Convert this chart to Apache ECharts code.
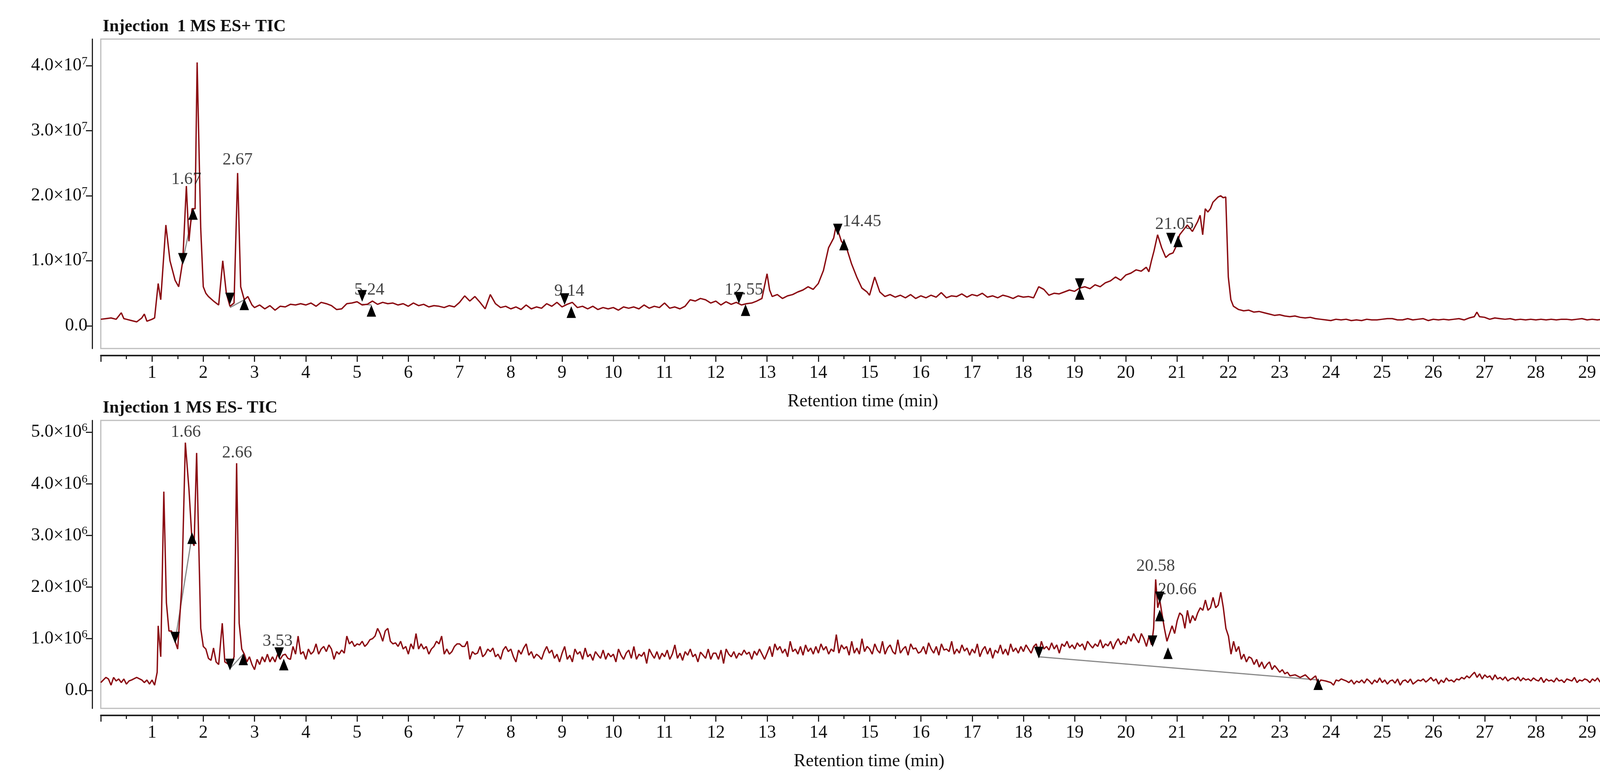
<!DOCTYPE html>
<html><head><meta charset="utf-8">
<script src="https://cdn.jsdelivr.net/npm/echarts@6/dist/echarts.min.js"></script>
<style>html,body{margin:0;background:#fff;overflow:hidden}#c{width:4262px;height:2004px}</style>
</head><body><div id="c"></div>
<script>
// ---- Data (intensity units: 1e6 counts, time in min) ----
const posPeakPairs = [[0,1.0],[0.1,1.1],[0.2,1.2],[0.3,1.0],[0.4,2.0],[0.45,1.1],[0.5,1.0],[0.6,0.8],[0.7,0.6],[0.8,1.2],[0.85,1.8],[0.9,0.7],[1.0,1.0],
[1.05,1.2],[1.12,6.5],[1.17,4],[1.27,15.5],[1.35,10],[1.45,7],[1.52,6],[1.6,10],[1.67,21.5],[1.72,13],[1.78,18],[1.84,18],[1.88,40.5],[1.95,15],[2.0,6],[2.05,5],[2.1,4.5],[2.2,3.8],[2.3,3.2],[2.38,10],[2.45,5],[2.52,3],[2.6,3.5],[2.67,23.5],[2.73,6],[2.8,4],[2.87,4.5],[2.95,3.2]];
const posNoiseStart = 3.0;
const posNoise = [2.8,3.2,2.6,3.1,2.4,3.0,2.9,3.3,3.2,3.4, 3.2,3.5,3.0,3.6,3.4,3.1,2.5,2.6,3.4,3.5,
3.7,3.2,3.3,3.8,3.3,3.6,3.4,3.5,3.2,3.4, 3.0,3.5,3.1,3.3,2.9,3.1,3.0,2.8,3.1,2.9,
3.6,4.6,3.8,4.5,3.6,2.6,4.8,3.4,2.8,3.0, 2.6,2.9,2.5,3.2,2.6,2.9,2.7,3.4,3.0,3.6,
2.9,3.3,3.6,2.8,3.0,2.6,3.0,2.5,2.8,2.6, 2.8,2.4,2.9,2.7,2.9,2.6,3.2,2.7,3.0,2.8,
3.5,2.7,2.9,2.6,3.0,4.0,3.8,4.2,4.0,3.5, 3.8,3.2,3.7,3.3,3.6,3.2,3.4,3.5,3.8];
const posLatePairs = [[12.9,4.2],[13.0,8.0],[13.05,5.5],[13.1,4.5],[13.2,4.8],[13.3,4.2],[13.4,4.6],[13.5,4.8],[13.6,5.2],[13.7,5.5],[13.8,6.0],[13.9,5.6],[14.0,6.5],[14.1,8.5],[14.2,12.0],[14.3,13.5],[14.35,15.5],[14.45,13.0],[14.55,12.0],[14.65,9.5],[14.75,7.5],[14.85,5.8],[14.95,5.2],[15.0,4.7],[15.1,7.5],[15.2,5.2],[15.3,4.5],[15.4,4.8],[15.5,4.4],[15.6,4.7],[15.7,4.3],[15.8,4.8],[15.9,4.2],[16.0,4.6],[16.1,4.3],[16.2,4.7],[16.3,4.4],[16.4,5.1],[16.5,4.3],[16.6,4.6],[16.7,4.5],[16.8,4.9],[16.9,4.4],[17.0,4.8],[17.1,4.6],[17.2,5.0],[17.3,4.4],[17.4,4.6],[17.5,4.3],[17.6,4.7],[17.7,4.5],[17.8,4.2],[17.9,4.6],[18.0,4.4],[18.1,4.5],[18.2,4.3],[18.3,6.0],[18.4,5.6],[18.5,4.7],[18.6,5.0],[18.7,4.9],[18.8,5.2],[18.9,5.5],[19.0,5.3],[19.1,5.8],[19.2,6.0],[19.3,5.7],[19.4,6.3],[19.5,6.0],[19.6,6.6],[19.7,6.9],[19.8,7.5],[19.9,7.0],[20.0,7.8],[20.1,8.1],[20.2,8.6],[20.3,8.4],[20.4,9.0],[20.45,8.3],[20.5,10.0],[20.55,11.5],[20.62,14.0],[20.7,12.0],[20.78,10.5],[20.85,11.0],[20.92,11.2],[21.0,12.5],[21.05,14.0],[21.1,14.5],[21.2,15.5],[21.3,14.5],[21.4,16.0],[21.45,17.0],[21.5,14.0],[21.55,18.0],[21.6,17.5],[21.65,18.0],[21.7,19.0],[21.8,19.8],[21.85,20.0],[21.9,19.7],[21.95,19.8],[22.0,7.5],[22.05,4.0],[22.1,3.0],[22.2,2.5],[22.3,2.3],[22.4,2.4],[22.5,2.1],[22.6,2.2],[22.7,2.0],[22.8,1.8],[22.9,1.6],[23.0,1.7],[23.1,1.5],[23.2,1.4],[23.3,1.5],[23.4,1.3],[23.5,1.2],[23.6,1.3],[23.7,1.1],[23.8,1.0],[23.9,0.9],[24.0,0.8],[24.1,1.0],[24.2,0.9],[24.3,1.0],[24.4,0.8],[24.5,0.9],[24.6,0.8],[24.7,1.0],[24.8,0.9],[24.9,0.9],[25.0,1.0],[25.1,1.1],[25.2,1.1],[25.3,0.9],[25.4,0.9],[25.5,1.1],[25.6,0.9],[25.7,1.0],[25.8,1.1],[25.9,0.8],[26.0,1.0],[26.1,0.9],[26.2,1.0],[26.3,0.9],[26.4,1.0],[26.5,1.1],[26.6,0.9],[26.7,1.2],[26.8,1.4],[26.85,2.1],[26.9,1.4],[27.0,1.3],[27.1,1.0],[27.2,1.2],[27.3,1.1],[27.4,1.0],[27.5,1.1],[27.6,0.9],[27.7,1.0],[27.8,0.9],[27.9,1.0],[28.0,0.9],[28.1,1.0],[28.2,0.9],[28.3,1.0],[28.4,0.9],[28.5,1.0],[28.6,1.0],[28.7,0.9],[28.8,1.0],[28.9,1.1],[29.0,0.9],[29.1,1.0],[29.2,0.9],[29.3,1.0],[29.4,1.1],[29.5,0.9],[29.6,1.0],[29.7,1.0],[29.8,0.9]];

const negEarlyPairs = [[0,0.15],[0.05,0.2],[0.1,0.25],[0.15,0.22],[0.2,0.1],[0.25,0.25],[0.3,0.18],[0.35,0.22],[0.4,0.15],[0.45,0.22],[0.5,0.12],[0.55,0.18],[0.6,0.2],[0.7,0.25],[0.8,0.2],[0.85,0.15],[0.9,0.2],[0.95,0.12],[1.0,0.2],[1.05,0.1],
[1.1,0.35],[1.12,1.25],[1.17,0.65],[1.23,3.85],[1.28,1.7],[1.33,1.15],[1.38,1.15],[1.45,0.95],[1.5,0.8],[1.58,2.0],[1.65,4.8],[1.72,3.9],[1.78,2.9],[1.82,2.8],[1.87,4.6],[1.95,1.2],[2.0,0.85],[2.05,0.8],[2.1,0.62],[2.15,0.58],[2.2,0.82],[2.25,0.55],[2.3,0.5],[2.37,1.3],[2.42,0.55],[2.5,0.5],[2.55,0.5],[2.6,0.65],[2.65,4.4],[2.7,1.3],[2.75,0.8],[2.8,0.7],[2.85,0.55],[2.9,0.65],[2.95,0.5]];
const negNoiseStart = 3.0;
const negNoise = [0.4,0.6,0.5,0.65,0.55,0.7,0.55,0.65,0.55,0.7,0.6,0.68,0.7,0.62,0.6,0.85,0.7,1.05,0.7,0.75,
0.6,0.8,0.7,0.75,0.9,0.7,0.8,0.85,0.75,0.88,0.8,0.6,0.75,0.7,0.78,0.72,1.05,0.9,0.95,0.85,
0.9,0.88,0.95,0.85,0.9,0.98,1.0,1.05,1.2,1.1,0.95,1.15,1.2,0.95,0.9,0.92,0.85,0.95,0.8,0.85,
0.7,0.9,0.8,1.1,0.8,0.9,0.8,0.85,0.7,0.8,0.85,0.95,0.9,1.05,0.7,0.8,0.7,0.75,0.85,0.9,
0.9,0.85,0.85,0.95,0.6,0.75,0.7,0.72,0.85,0.65,0.7,0.8,0.75,0.82,0.65,0.7,0.6,0.78,0.85,0.75,
0.8,0.65,0.55,0.78,0.7,0.82,0.9,0.68,0.75,0.62,0.7,0.66,0.6,0.75,0.85,0.72,0.78,0.62,0.7,0.55,
0.72,0.85,0.6,0.68,0.55,0.8,0.7,0.75,0.6,0.82,0.65,0.7,0.58,0.75,0.68,0.62,0.78,0.6,0.72,0.65,
0.7,0.55,0.8,0.68,0.6,0.72,0.78,0.62,0.85,0.6,0.7,0.66,0.74,0.52,0.8,0.7,0.62,0.75,0.6,0.72,
0.65,0.78,0.6,0.7,0.88,0.62,0.72,0.58,0.75,0.68,0.8,0.65,0.7,0.55,0.74,0.68,0.62,0.8,0.6,0.72,
0.72,0.6,0.78,0.52,0.8,0.7,0.65,0.75,0.62,0.72,0.68,0.78,0.7,0.74,0.6,0.76,0.68,0.8,0.7,0.6,
0.72,0.85,0.65,0.9,0.78,0.85,0.72,0.8,0.65,0.95,0.75,0.8,0.7,0.85,0.68,0.88,0.75,0.82,0.7,0.85,
0.72,0.9,0.78,0.85,0.7,0.8,0.75,1.08,0.72,0.88,0.8,0.85,0.68,0.95,0.72,0.82,0.7,1.0,0.75,0.85,
0.8,0.7,0.9,0.78,0.72,0.95,0.7,0.82,0.88,0.75,0.7,0.98,0.72,0.8,0.85,0.68,0.9,0.8,0.82,0.72,
0.75,0.85,0.7,0.92,0.8,0.72,0.85,0.68,0.9,0.78,0.8,0.75,0.95,0.7,0.8,0.72,0.88,0.76,0.82,0.68,
0.8,0.72,0.9,0.65,0.78,0.85,0.7,0.82,0.62,0.78,0.72,0.88,0.7,0.8,0.68,0.9,0.75,0.82,0.72,0.85,
0.75,0.88,0.8,0.72,0.85,0.9,0.7,0.95,0.8,0.85,0.78,0.92,0.8,0.88,0.72,0.9,0.85,0.95,0.82,0.88,
0.8,0.92,0.85,0.9,0.78,0.95,0.88,0.82,0.9,0.85,0.98,0.82,0.9,0.86,0.95,0.8,0.92,1.0,0.88,0.95,
0.9,1.05,0.95,1.1,1.0,0.92,1.1,1.0,0.85,1.05];
const negLatePairs = [[20.5,0.88],[20.54,1.2],[20.58,2.15],[20.62,1.6],[20.66,1.75],[20.7,1.5],[20.75,1.2],[20.8,0.95],[20.85,1.1],[20.9,1.25],[20.95,1.1],[21.0,1.35],[21.05,1.5],[21.1,1.45],[21.15,1.2],[21.2,1.55],[21.25,1.3],[21.3,1.45],[21.35,1.35],[21.4,1.5],[21.45,1.6],[21.5,1.55],[21.55,1.75],[21.6,1.55],[21.65,1.6],[21.7,1.8],[21.75,1.6],[21.8,1.65],[21.85,1.9],[21.9,1.6],[21.95,1.2],[22.0,1.05],[22.05,0.7],[22.1,0.95],[22.15,0.75],[22.2,0.85],[22.25,0.6],[22.3,0.7],[22.35,0.55],[22.4,0.65],[22.45,0.62],[22.5,0.5],[22.55,0.6],[22.6,0.45],[22.65,0.55],[22.7,0.42],[22.75,0.5],[22.8,0.55],[22.85,0.4],[22.9,0.48],[22.95,0.42],[23.0,0.35],[23.05,0.4],[23.1,0.32],[23.15,0.35],[23.2,0.28],[23.3,0.3],[23.4,0.25],[23.5,0.3],[23.6,0.2],[23.7,0.28],[23.75,0.12],[23.8,0.2],[23.9,0.18]];
const negTailStart = 24.0;
const negTail = [0.15,0.1,0.2,0.18,0.22,0.2,0.18,0.15,0.2,0.12,0.18,0.15,0.2,0.14,0.22,0.18,0.12,0.2,0.15,0.24,
0.15,0.2,0.12,0.18,0.2,0.14,0.22,0.1,0.18,0.2,0.15,0.22,0.12,0.16,0.2,0.18,0.22,0.16,0.2,0.25,
0.18,0.22,0.12,0.2,0.15,0.24,0.18,0.2,0.16,0.22,0.2,0.25,0.22,0.28,0.24,0.3,0.35,0.25,0.32,0.22,
0.3,0.25,0.28,0.2,0.3,0.22,0.25,0.2,0.26,0.18,0.22,0.24,0.2,0.26,0.18,0.24,0.2,0.22,0.18,0.24,
0.2,0.18,0.25,0.15,0.22,0.18,0.2,0.16,0.24,0.18,0.2,0.15,0.22,0.2,0.18,0.25,0.15,0.2,0.18,0.22,
0.2,0.15,0.22,0.18,0.24,0.16,0.2,0.18,0.22,0.2,0.16,0.22,0.18,0.24,0.15,0.2,0.18,0.22,0.17,0.2];

// peak integration marks
const posDown = [[1.6,10.3],[2.52,4.2],[5.1,4.6],[9.05,4.1],[12.45,4.3],[14.38,14.8],[19.1,6.4],[20.88,13.4]];
const posUp = [[1.8,17.2],[2.8,3.3],[5.28,2.3],[9.18,2.1],[12.58,2.4],[14.5,12.5],[19.1,4.9],[21.02,13.0]];
const posBase = [[[1.6,10],[1.8,17.5]],[[2.52,2.8],[2.8,4.0]],[[5.1,3.3],[5.28,3.2]]];
const posLabels = [[1.67,22.5,'1.67'],[2.67,25.5,'2.67'],[5.24,5.5,'5.24'],[9.14,5.3,'9.14'],[12.55,5.5,'12.55'],[14.85,16.0,'14.45'],[20.95,15.6,'21.05']];
const negDown = [[1.45,1.02],[2.52,0.5],[3.48,0.72],[18.3,0.73],[20.52,0.95],[20.66,1.8]];
const negUp = [[1.78,2.95],[2.78,0.6],[3.57,0.5],[23.75,0.12],[20.66,1.45],[20.82,0.72]];
const negBase = [[[1.45,0.95],[1.78,3.0]],[[2.52,0.42],[2.78,0.7]],[[18.3,0.65],[23.75,0.2]]];
const negLabels = [[1.66,5.0,'1.66'],[2.66,4.6,'2.66'],[3.45,0.95,'3.53'],[20.58,2.4,'20.58'],[21.0,1.95,'20.66']];

const posTicks = [0,10,20,30,40], posMinor = [5,15,25,35];
const negTicks = [0,1,2,3,4,5], negMinor = [0.5,1.5,2.5,3.5,4.5];

function grid(start, step, vals){ return vals.map((v,i)=>[+(start+i*step).toFixed(3), v]); }
const posData = posPeakPairs.concat(grid(posNoiseStart,0.1,posNoise).filter(p=>p[0]<12.9 && !(p[0]>7.6&&p[0]<7.7)), posLatePairs).sort((a,b)=>a[0]-b[0]);
const negData = negEarlyPairs.concat(grid(negNoiseStart,0.05,negNoise), negLatePairs, grid(negTailStart,0.05,negTail)).sort((a,b)=>a[0]-b[0]);

const FONT = 'Liberation Serif';
const RED = '#8b0c12';
function sup(exp, scale){
  return function(v){
    if (Math.abs(v) < 1e-9) return '{b|0.0}';
    return '{b|' + (v/scale).toFixed(1) + '×10}{s|' + exp + '}';
  };
}
const rich = {b:{fontSize:46,fontFamily:FONT,color:'#111'}, s:{fontSize:30,fontFamily:FONT,color:'#111',padding:[0,0,22,0]}};

function xAx(gi, max){
  return {type:'value', gridIndex:gi, min:0, max:max, interval:1, offset:18,
    name:'Retention time (min)', nameLocation:'middle', nameGap:95,
    nameTextStyle:{fontFamily:FONT,fontSize:46,color:'#111'},
    axisLine:{show:true,onZero:false,lineStyle:{color:'#222',width:4}},
    axisTick:{show:true,length:16,lineStyle:{color:'#222',width:3}},
    minorTick:{show:true,splitNumber:2,length:9,lineStyle:{color:'#222',width:3}},
    axisLabel:{fontFamily:FONT,fontSize:46,color:'#111',margin:22,showMaxLabel:false,formatter:v=>(v===0||v>29)?'':String(v)},
    splitLine:{show:false}};
}
function yAx(gi,min,max,ticks,fmt,showLabel,len){
  return {type:'value', gridIndex:gi, min:min, max:max, offset:22,
    axisLine:{show:true,onZero:false,lineStyle:{color:'#222',width:3}},
    axisTick:{show:true,length:len,customValues:ticks,lineStyle:{color:'#222',width:3}},
    axisLabel:{show:showLabel,customValues:ticks,formatter:fmt,rich:rich,margin:12},
    splitLine:{show:false}};
}
function marks(xi, data, rot){
  return {type:'scatter', xAxisIndex:xi, yAxisIndex:xi*2, data:data, symbol:'triangle', symbolSize:[24,30], symbolRotate:rot,
    itemStyle:{color:'#000',opacity:1}, z:5, silent:true};
}
function bases(xi, segs){
  return segs.map(s=>({type:'line', xAxisIndex:xi, yAxisIndex:xi*2, data:s, symbol:'none', lineStyle:{color:'#888',width:3}, z:3, silent:true}));
}
function labels(xi, data){
  return {type:'scatter', xAxisIndex:xi, yAxisIndex:xi*2, data:data, symbolSize:0, silent:true,
    label:{show:true,position:'inside',formatter:p=>p.data[2],fontFamily:FONT,fontSize:44,color:'#111'}, z:6};
}

const chart = echarts.init(document.getElementById('c'), null, {width:4262, height:2004});
chart.setOption({
  backgroundColor:'#fff', animation:false,
  title:[{text:'Injection  1 MS ES+ TIC', left:258, top:42, textStyle:{fontFamily:FONT,fontWeight:'bold',fontSize:44,color:'#111'}},
         {text:'Injection 1 MS ES- TIC', left:258, top:1018, textStyle:{fontFamily:FONT,fontWeight:'bold',fontSize:44,color:'#111'}}],
  grid:[{left:258,width:3902,top:100,height:792,show:true,borderColor:'#bdbdbd',borderWidth:3,containLabel:false,outerBoundsMode:'none'},
        {left:258,width:3934,top:1076,height:737,show:true,borderColor:'#bdbdbd',borderWidth:3,containLabel:false,outerBoundsMode:'none'}],
  xAxis:[xAx(0,29.74), xAx(1,29.98)],
  yAxis:[yAx(0,-3.5,44.1,posTicks,sup(7,10),true,16), yAx(0,-3.5,44.1,posMinor,null,false,9),
         yAx(1,-0.35,5.23,negTicks,sup(6,1),true,16), yAx(1,-0.35,5.23,negMinor,null,false,9)],
  series:[
    {type:'line', xAxisIndex:0, yAxisIndex:0, data:posData, symbol:'none', lineStyle:{color:RED,width:3.5}, z:4},
    {type:'line', xAxisIndex:1, yAxisIndex:2, data:negData, symbol:'none', lineStyle:{color:RED,width:3.5}, z:4},
    ...bases(0,posBase), ...bases(1,negBase),
    marks(0,posDown,180), marks(0,posUp,0), marks(1,negDown,180), marks(1,negUp,0),
    labels(0,posLabels), labels(1,negLabels)
  ]
});
</script></body></html>
